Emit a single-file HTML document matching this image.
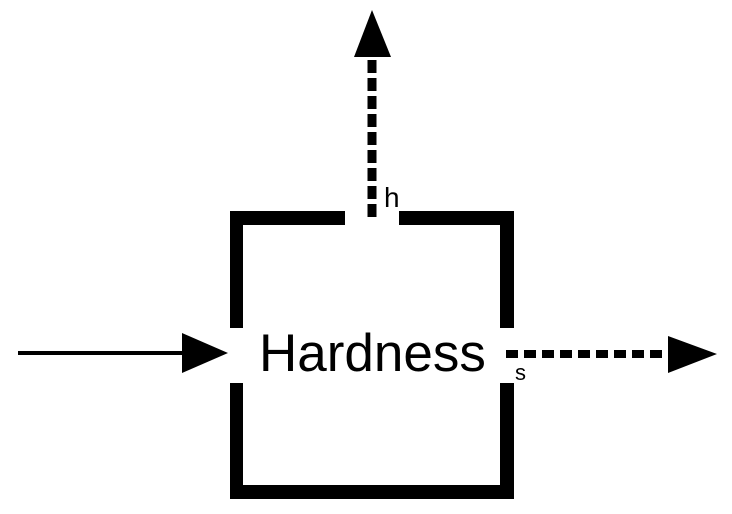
<!DOCTYPE html>
<html><head><style>
html,body{margin:0;padding:0;background:#fff;}
body{width:732px;height:509px;overflow:hidden;}
</style></head><body>
<svg width="732" height="509" viewBox="0 0 732 509" xmlns="http://www.w3.org/2000/svg">
<g fill="#000">
<!-- box -->
<rect x="230" y="211" width="115" height="14"/>
<rect x="399" y="211" width="115" height="14"/>
<rect x="230" y="211" width="13" height="117"/>
<rect x="230" y="383" width="13" height="116"/>
<rect x="500" y="211" width="14" height="117"/>
<rect x="500" y="383" width="14" height="116"/>
<rect x="230" y="485" width="284" height="14"/>
<!-- left arrow -->
<rect x="18" y="351" width="170" height="4"/>
<polygon points="182,333 228,353 182,373"/>
<!-- up arrow -->
<polygon points="372,10 354,57 391,57"/>
<!-- right arrow -->
<polygon points="668,336 717,354 668,373"/>
</g>
<line x1="372" y1="60" x2="372" y2="219" stroke="#000" stroke-width="9" stroke-dasharray="13,5"/>
<line x1="506" y1="354" x2="670" y2="354" stroke="#000" stroke-width="8" stroke-dasharray="12,6"/>
<text x="259" y="371" font-family="Liberation Sans, Arial, sans-serif" font-size="53" fill="#000">Hardness</text>
<text x="384" y="207" font-family="Liberation Sans, Arial, sans-serif" font-size="28" fill="#000">h</text>
<text x="515" y="380" font-family="Liberation Sans, Arial, sans-serif" font-size="22" fill="#000">s</text>
</svg>
</body></html>
